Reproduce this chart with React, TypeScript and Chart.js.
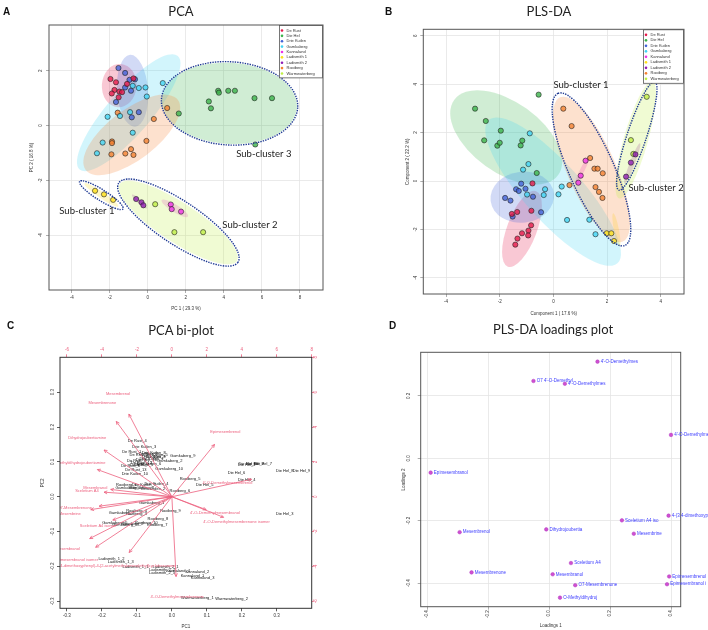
import React, { useEffect, useRef } from 'react';
import { Chart, registerables } from 'chart.js';

Chart.register(...registerables);

const FONT = '"Liberation Sans", Arial, sans-serif';
const TITLE_FONT = 'Lato, "Open Sans", sans-serif';
const BIPLOT_RED = 'rgb(236,96,126)';

// ---------- shared groups ----------
const groups = ['De Rust', 'Die Hel', 'Drie Kuilen', 'Gamkaberg', 'Kannaland', 'Ladismith 1', 'Ladismith 2', 'Rooiberg', 'Warmwaterberg'];
const groupColors = ['#e6194b', '#3cb44b', '#4363d8', '#42d4f4', '#f032e6', '#ffe119', '#911eb4', '#f58231', '#bfef45'];

// ---------- Panel A : PCA scores ----------
const pcaXTicks = [-4, -2, 0, 2, 4, 6, 8];
const pcaYTicks = [-4, -2, 0, 2];
const pcaXRange = [-5.19, 9.21];
const pcaYRange = [-6.0, 3.67];
const pcaScores: number[][][] = [
  [[-1.96, 1.70], [-1.67, 1.58], [-1.75, 1.30], [-1.89, 1.17], [-1.49, 1.24], [-1.35, 1.22], [-1.53, 1.03], [-1.09, 1.52], [-0.75, 1.72]],
  [[3.70, 1.27], [3.74, 1.20], [4.23, 1.27], [4.58, 1.27], [3.21, 0.88], [3.32, 0.63], [5.61, 1.00], [6.53, 1.00], [1.63, 0.44], [5.65, -0.69]],
  [[-1.54, 2.10], [-1.19, 1.92], [-0.96, 1.67], [-0.67, 1.69], [-1.19, 1.39], [-0.88, 1.27], [-1.67, 0.86], [-0.47, 0.49], [-0.84, 0.30]],
  [[0.79, 1.55], [-0.12, 1.39], [-0.47, 1.37], [-0.79, 1.45], [-0.05, 1.06], [-0.93, 0.49], [-1.46, 0.35], [-2.11, 0.32], [-0.79, -0.26], [-2.37, -0.62], [-2.67, -1.01]],
  [[1.21, -2.88], [1.26, -3.05], [1.75, -3.14]],
  [[-2.77, -2.38], [-2.30, -2.51], [-1.82, -2.71]],
  [[-0.61, -2.68], [-0.33, -2.80], [-0.23, -2.91]],
  [[1.02, 0.64], [-1.58, 0.47], [0.32, 0.24], [-1.88, -0.58], [-1.88, -0.64], [-0.07, -0.56], [-0.88, -0.86], [-1.18, -1.02], [-0.75, -1.07], [-1.91, -1.05]],
  [[0.39, -2.87], [1.40, -3.89], [2.91, -3.89]],
];
// [centerX, centerY, majorTipX, majorTipY, minor/major ratio]
const pcaEllipses: number[][] = [
  [-1.50, 1.46, -1.42, 2.25, 0.8],
  [4.29, 0.81, 7.84, 0.66, 0.6],
  [-0.80, 1.27, -0.93, 2.58, 0.43],
  [-1.00, 0.47, 1.58, 2.54, 0.29],
  [1.42, -3.02, 2.11, -3.32, 0.25],
  [-2.44, -2.53, -1.55, -2.95, 0.15],
  [-0.44, -2.77, -0.05, -3.02, 0.2],
  [-0.84, -0.34, 1.58, 0.94, 0.43],
  [1.60, -3.54, 4.68, -4.94, 0.28],
];
const pcaClusters: number[][] = [
  [-2.44, -2.54, -1.30, -3.04, 0.21],
  [1.61, -3.54, 4.74, -4.99, 0.3],
  [4.30, 0.81, 7.88, 0.66, 0.61],
];
const pcaClusterLabels: [string, number, number][] = [
  ['Sub-cluster 1', -3.20, -3.11],
  ['Sub-cluster 2', 5.37, -3.62],
  ['Sub-cluster 3', 6.10, -1.03],
];

// ---------- Panel B : PLS-DA scores ----------
const plsXTicks = [-4, -2, 0, 2, 4];
const plsYTicks = [-4, -2, 0, 2, 4, 6];
const plsXRange = [-4.85, 4.87];
const plsYRange = [-4.67, 6.27];
const plsScores: number[][][] = [
  [[-0.78, -0.10], [-1.55, -1.36], [-1.35, -1.28], [-0.82, -1.23], [-0.83, -1.83], [-1.17, -2.16], [-0.93, -2.05], [-0.94, -2.25], [-1.34, -2.38], [-1.42, -2.63]],
  [[-2.92, 2.99], [-2.52, 2.48], [-2.58, 1.68], [-2.09, 1.46], [-2.00, 1.58], [-1.96, 2.08], [-1.22, 1.47], [-1.16, 1.67], [-0.55, 3.57], [-0.62, 0.33]],
  [[-1.80, -0.70], [-1.60, -0.81], [-1.39, -0.34], [-1.29, -0.41], [-1.20, -0.11], [-1.04, -0.32], [-0.76, -0.65], [-0.46, -1.29], [-1.52, -1.47]],
  [[-0.88, 1.97], [-0.93, 0.70], [-1.13, 0.47], [-0.98, -0.56], [-0.36, -0.58], [-0.31, -0.34], [0.19, -0.55], [0.31, -0.23], [0.51, -1.61], [1.34, -1.60], [1.57, -2.20]],
  [[1.20, 0.84], [1.02, 0.22], [0.93, -0.07]],
  [[1.99, -2.16], [2.16, -2.16], [2.26, -2.48]],
  [[2.71, 0.18], [2.89, 0.76], [3.06, 1.10]],
  [[0.37, 2.99], [0.68, 2.27], [1.37, 0.95], [1.53, 0.51], [1.65, 0.51], [1.84, 0.32], [0.60, -0.17], [1.57, -0.25], [1.70, -0.45], [1.83, -0.70]],
  [[3.48, 3.48], [2.89, 1.69], [2.98, 1.12]],
];
const plsEllipses: number[][] = [
  [-1.17, -1.98, -0.64, -0.42, 0.37],
  [-1.76, 1.80, -3.70, 3.35, 0.55],
  [-1.16, -0.67, 0.02, -0.51, 0.8],
  [-0.01, -0.44, 2.39, -3.40, 0.3],
  [1.08, 0.45, 1.33, 1.01, 0.15],
  [2.35, -2.02, 2.47, -2.71, 0.15],
  [2.94, 0.73, 3.23, 1.56, 0.12],
  [1.42, 0.48, 0.25, 3.46, 0.31],
  [3.07, 1.69, 3.69, 4.10, 0.2],
];
const plsClusters: number[][] = [
  [1.42, 0.48, 0.17, 3.62, 0.27],
  [3.11, 1.86, 3.78, 4.10, 0.17],
];
const plsClusterLabels: [string, number, number][] = [
  ['Sub-cluster 1', 1.03, 3.97],
  ['Sub-cluster 2', 3.83, -0.29],
];

// ---------- Panel C : PCA bi-plot ----------
const biXTicks = [-0.3, -0.2, -0.1, 0, 0.1, 0.2, 0.3];
const biScoreTicks = [-6, -4, -2, 0, 2, 4, 6, 8];
const biRange = [-0.32, 0.40];
const biScoreRange = [-6.4, 8.0];
const loadingNames = [
  'Mesembrenol', 'Mesembrenone', 'Dihydrojoubertiamine', 'N-Methyldihydrojoubertiamine', 'Mesembranol', 'Sceletium A4',
  'O7-Mesembrenone', 'Mesembrine', 'Sceletium A4 isomer', 'Epimesembranol', 'Epimesembranol isomer',
  '4-(3,4-dimethoxyphenyl)-4-[2-acetylmethylamino)ethyl]cyclohexanone', "4'-O-Demethylmesembrenone", 'Epimesembrenol',
  "4'-O-Demethylmesembrenol", "4'-O-Demethylmesembranol", "4'-O-Demethylmesembrenone isomer",
];
const loadingLabelPos: number[][] = [
  [-0.154, 0.296], [-0.199, 0.270], [-0.242, 0.168], [-0.266, 0.097], [-0.219, 0.026], [-0.243, 0.016],
  [-0.278, -0.031], [-0.292, -0.048], [-0.211, -0.084], [-0.306, -0.150], [-0.273, -0.181],
  [-0.166, -0.197], [0.015, -0.286], [0.153, 0.187], [0.159, 0.040], [0.123, -0.046], [0.185, -0.073],
];
const loadingTips: number[][] = [
  [-0.123, 0.237], [-0.159, 0.216], [-0.194, 0.134], [-0.213, 0.078], [-0.175, 0.021], [-0.194, 0.013],
  [-0.208, -0.027], [-0.232, -0.037], [-0.169, -0.067], [-0.235, -0.120], [-0.218, -0.145],
  [-0.122, -0.160], [0.012, -0.229], [0.122, 0.150], [0.228, 0.050], [0.098, -0.037], [0.148, -0.059],
];
const sampleNames = [
  'De Rust_4', 'Drie Kuilen_3', 'De Rust_1', 'De Rust_2', 'Drie Kuilen_8', 'Drie Kuilen_5', 'De Rust_7', 'Drie Kuilen_1',
  'Gamkaberg_9', 'Gamkaberg_2', 'De Rust_3', 'Drie Kuilen_6', 'De Rust_9', 'De Rust_6', 'Gamkaberg_10', 'De Rust_13',
  'Drie Kuilen_10', 'De Rust_8', 'Drie Kuilen_9', 'De Rust_5', 'De Rust_10', 'De Rust_12',
  'Rooiberg_1', 'Drie Kuilen_7', 'Drie Kuilen_4', 'Gamkaberg_3', 'Drie Kuilen_2', 'Gamkaberg_6', 'Rooiberg_5', 'Rooiberg_6',
  'Die Hel_5', 'Gamkaberg_1', 'Gamkaberg_7', 'Rooiberg_4', 'Rooiberg_3', 'Rooiberg_9', 'Rooiberg_8', 'Gamkaberg_5',
  'Rooiberg_2', 'Rooiberg_10', 'Rooiberg_7', 'Gamkaberg_8',
  'Ladismith_1_2', 'Ladismith_1_3', 'Ladismith_1_1', 'Ladismith_2_1', 'Ladismith_2_2', 'Ladismith_2_3',
  'Kannaland_4', 'Kannaland_2', 'Kannaland_1', 'Kannaland_3', 'Warmwaterberg_1', 'Warmwaterberg_2',
  'Die Hel_10', 'Die Hel_2', 'Die Hel_7', 'Die Hel_1', 'Die Hel_6', 'Die Hel_4', 'Die Hel_8', 'Die Hel_9', 'Die Hel_3',
];
const sampleScores: number[][] = [
  [-1.98, 3.18], [-1.58, 2.88], [-2.30, 2.58], [-1.88, 2.38], [-1.04, 2.54], [-0.92, 2.42], [-0.92, 2.28], [-1.16, 2.16],
  [0.62, 2.32], [-0.12, 2.08], [-2.02, 2.06], [-1.30, 1.90], [-1.84, 1.84], [-2.36, 1.78], [-0.16, 1.60], [-2.06, 1.56],
  [-2.12, 1.30], [-1.36, 2.44], [-1.04, 2.28], [-1.60, 1.80], [-1.46, 2.10], [-1.74, 1.96],
  [-2.60, 0.70], [-1.60, 0.70], [-0.88, 0.74], [-2.50, 0.50], [-1.06, 0.46], [-1.74, 0.52], [1.04, 1.00], [0.46, 0.36],
  [1.88, 0.66], [-1.16, -0.34], [-2.88, -0.92], [-2.02, -0.84], [-2.02, -0.96], [-0.08, -0.84], [-0.80, -1.28], [-3.26, -1.48],
  [-2.22, -1.58], [-1.46, -1.52], [-0.84, -1.64], [-2.70, -1.62],
  [-3.46, -3.54], [-2.92, -3.76], [-2.08, -4.04], [-0.36, -4.00], [-0.56, -4.22], [-0.56, -4.38],
  [0.36, -4.28], [1.46, -4.30], [1.18, -4.54], [1.76, -4.68], [1.46, -5.80], [3.42, -5.84],
  [4.38, 1.90], [4.76, 1.90], [5.22, 1.90], [4.28, 1.80], [3.70, 1.36], [4.28, 0.94], [6.46, 1.50], [7.42, 1.50], [6.46, -1.00],
];

// ---------- Panel D : PLS-DA loadings ----------
const ldXTicks = [-0.4, -0.2, 0, 0.2, 0.4];
const ldYTicks = [-0.4, -0.2, 0, 0.2];
const ldXRange = [-0.4207, 0.4318];
const ldYRange = [-0.476, 0.340];
const ldNames = [
  "4'-O-Demethylmes", "O7 4'-O-Demethyl", "4'-O-Demethylmes", "4'-O-Demethylmes", 'Epimesembranol', '4-(3,4-dimethoxyp',
  'Sceletium A4 iso', 'Mesembrine', 'Dihydrojoubertia', 'Mesembrenol', 'Sceletium A4', 'Mesembrenone', 'Mesembranol',
  'O7-Mesembrenone', 'Epimesembrenol', 'Epimesembranol i', 'O-Methyldihydroj',
];
const ldValues: number[][] = [
  [0.159, 0.310], [-0.051, 0.248], [0.052, 0.239], [0.400, 0.075], [-0.388, -0.046], [0.392, -0.184],
  [0.239, -0.199], [0.278, -0.242], [-0.009, -0.228], [-0.293, -0.237], [0.072, -0.336], [-0.254, -0.366], [0.012, -0.372],
  [0.086, -0.407], [0.394, -0.379], [0.387, -0.404], [0.036, -0.447],
];

// ---------- helpers ----------
function rgba(hex: string, a: number) {
  const n = parseInt(hex.slice(1), 16);
  return `rgba(${(n >> 16) & 255},${(n >> 8) & 255},${n & 255},${a})`;
}

function clipArea(chart: any) {
  const { ctx, chartArea: ca } = chart;
  ctx.beginPath();
  ctx.rect(ca.left, ca.top, ca.right - ca.left, ca.bottom - ca.top);
  ctx.clip();
}

function ellipsePath(chart: any, e: number[]) {
  const xs = chart.scales.x;
  const ys = chart.scales.y;
  const cx = xs.getPixelForValue(e[0]);
  const cy = ys.getPixelForValue(e[1]);
  const tx = xs.getPixelForValue(e[2]);
  const ty = ys.getPixelForValue(e[3]);
  const a = Math.hypot(tx - cx, ty - cy);
  const ang = Math.atan2(ty - cy, tx - cx);
  chart.ctx.beginPath();
  chart.ctx.ellipse(cx, cy, a, a * e[4], ang, 0, Math.PI * 2);
}

function drawBox(chart: any, color: string, lw = 1) {
  const { ctx, chartArea: ca } = chart;
  ctx.save();
  ctx.strokeStyle = color;
  ctx.lineWidth = lw;
  ctx.strokeRect(ca.left, ca.top, ca.right - ca.left, ca.bottom - ca.top);
  ctx.restore();
}

function drawLegend(chart: any, boxW: number, rowH: number) {
  const { ctx, chartArea: ca } = chart;
  const x0 = ca.right - boxW;
  const y0 = ca.top + 0.5;
  const h = rowH * groups.length + 4;
  ctx.save();
  ctx.fillStyle = '#fff';
  ctx.fillRect(x0, y0, boxW, h);
  ctx.strokeStyle = '#555';
  ctx.lineWidth = 0.8;
  ctx.strokeRect(x0 + 0.5, y0, boxW - 1, h);
  ctx.font = `4px ${FONT}`;
  ctx.textBaseline = 'middle';
  ctx.textAlign = 'left';
  groups.forEach((g, i) => {
    const cy = y0 + 2.3 + rowH * (i + 0.5);
    ctx.beginPath();
    ctx.arc(x0 + 3, cy, 1.3, 0, Math.PI * 2);
    ctx.fillStyle = groupColors[i];
    ctx.fill();
    ctx.fillStyle = '#333';
    ctx.fillText(g, x0 + 7.5, cy);
  });
  ctx.restore();
}

function axis(p: {
  pos: string; range: number[]; ticks: number[]; title?: string; size: number; titlePad?: any;
  rotate?: boolean; fmt?: (v: number) => string; pad?: number; grid?: boolean; color?: string; tickLen?: number; fontSize?: number;
}) {
  const vertical = p.pos === 'left' || p.pos === 'right';
  const color = p.color || '#333';
  return {
    type: 'linear',
    position: p.pos,
    min: p.range[0],
    max: p.range[1],
    afterBuildTicks: (s: any) => { s.ticks = p.ticks.map((v) => ({ value: v })); },
    afterFit: (s: any) => { if (vertical) s.width = p.size; else s.height = p.size; },
    ticks: {
      font: { size: p.fontSize || 4.5, family: FONT },
      color,
      padding: p.pad ?? 2,
      autoSkip: false,
      minRotation: p.rotate ? 90 : 0,
      maxRotation: p.rotate ? 90 : 0,
      crossAlign: vertical && p.rotate ? 'center' : 'near',
      callback: (v: any) => (p.fmt ? p.fmt(Number(v)) : String(v)),
    },
    grid: {
      display: true,
      drawOnChartArea: p.grid !== false,
      color: p.grid === false ? color : '#e4e4e4',
      lineWidth: 0.8,
      tickLength: p.tickLen ?? 3,
      tickColor: p.grid === false ? color : '#999',
    },
    border: { display: false },
    title: {
      display: !!p.title,
      text: p.title || '',
      font: { size: 4.5, family: FONT },
      color: '#333',
      padding: p.titlePad || 0,
    },
  };
}

function scoreChart(p: any) {
  const plugin = {
    id: 'scoreDecor',
    beforeDatasetsDraw(chart: any) {
      const ctx = chart.ctx;
      ctx.save();
      clipArea(chart);
      p.ellipses.forEach((e: number[], i: number) => {
        ellipsePath(chart, e);
        ctx.fillStyle = rgba(groupColors[i], 0.24);
        ctx.fill();
      });
      ctx.restore();
    },
    afterDatasetsDraw(chart: any) {
      const ctx = chart.ctx;
      ctx.save();
      clipArea(chart);
      ctx.strokeStyle = '#1f3a93';
      ctx.lineWidth = 1.4;
      ctx.setLineDash([1.4, 1.1]);
      p.clusters.forEach((e: number[]) => { ellipsePath(chart, e); ctx.stroke(); });
      ctx.setLineDash([]);
      ctx.font = `9.5px ${TITLE_FONT}`;
      ctx.fillStyle = '#222';
      ctx.textAlign = 'center';
      ctx.textBaseline = 'middle';
      p.clusterLabels.forEach(([t, x, y]: [string, number, number]) => {
        ctx.fillText(t, chart.scales.x.getPixelForValue(x), chart.scales.y.getPixelForValue(y));
      });
      ctx.restore();
      drawLegend(chart, p.legendW, p.legendRowH);
      drawBox(chart, '#555');
    },
  };
  return {
    type: 'scatter',
    data: {
      datasets: p.scores.map((pts: number[][], i: number) => ({
        label: groups[i],
        data: pts.map(([x, y]) => ({ x, y })),
        backgroundColor: rgba(groupColors[i], 0.8),
        borderColor: '#222',
        borderWidth: 0.6,
        pointRadius: 2.6,
      })),
    },
    options: {
      responsive: false,
      animation: false,
      events: [],
      layout: { padding: p.padding },
      plugins: { legend: { display: false }, tooltip: { enabled: false }, title: { display: false } },
      scales: {
        x: axis({ pos: 'bottom', range: p.xRange, ticks: p.xTicks, title: p.xTitle, size: p.xAxisH, titlePad: { top: 0, bottom: p.xTitlePad } }),
        y: axis({ pos: 'left', range: p.yRange, ticks: p.yTicks, title: p.yTitle, size: p.yAxisW, titlePad: { top: p.yTitlePad, bottom: 0 }, rotate: true, pad: 3 }),
      },
    },
    plugins: [plugin],
  };
}

function biplotChart() {
  const plugin = {
    id: 'biplotDecor',
    afterDatasetsDraw(chart: any) {
      const { ctx } = chart;
      const xs = chart.scales.x;
      const ys = chart.scales.y;
      ctx.save();
      clipArea(chart);
      ctx.font = `4px ${FONT}`;
      ctx.textAlign = 'center';
      ctx.textBaseline = 'middle';
      ctx.fillStyle = '#111';
      chart.getDatasetMeta(0).data.forEach((el: any, i: number) => ctx.fillText(sampleNames[i], el.x, el.y));
      const ox = xs.getPixelForValue(0);
      const oy = ys.getPixelForValue(0);
      ctx.strokeStyle = BIPLOT_RED;
      ctx.lineWidth = 0.8;
      loadingTips.forEach(([lx, ly]) => {
        const px = xs.getPixelForValue(lx);
        const py = ys.getPixelForValue(ly);
        const ang = Math.atan2(py - oy, px - ox);
        const L = 3.5;
        const w = 0.45;
        ctx.beginPath();
        ctx.moveTo(ox, oy);
        ctx.lineTo(px, py);
        ctx.moveTo(px - L * Math.cos(ang - w), py - L * Math.sin(ang - w));
        ctx.lineTo(px, py);
        ctx.lineTo(px - L * Math.cos(ang + w), py - L * Math.sin(ang + w));
        ctx.stroke();
      });
      ctx.fillStyle = BIPLOT_RED;
      loadingLabelPos.forEach(([lx, ly], i) => ctx.fillText(loadingNames[i], xs.getPixelForValue(lx), ys.getPixelForValue(ly)));
      ctx.restore();
      drawBox(chart, '#333');
    },
  };
  const fmt = (v: number) => v.toFixed(1);
  return {
    type: 'scatter',
    data: {
      datasets: [{
        label: 'samples',
        data: sampleScores.map(([x, y]) => ({ x, y })),
        xAxisID: 'x2',
        yAxisID: 'y2',
        pointRadius: 0,
      }],
    },
    options: {
      responsive: false,
      animation: false,
      events: [],
      layout: { padding: { left: 40, top: 25.3, right: 30.3, bottom: 0 } },
      plugins: { legend: { display: false }, tooltip: { enabled: false } },
      scales: {
        x: axis({ pos: 'bottom', range: biRange, ticks: biXTicks, title: 'PC1', size: 21.7, titlePad: { top: 0, bottom: 0.3 }, fmt, grid: false, pad: 1.5 }),
        y: axis({ pos: 'left', range: biRange, ticks: biXTicks, title: 'PC2', size: 20, titlePad: { top: 0.3, bottom: 0 }, fmt, grid: false, rotate: true, pad: 0.5 }),
        x2: axis({ pos: 'top', range: biScoreRange, ticks: biScoreTicks, size: 14, grid: false, color: BIPLOT_RED, pad: 2 }),
        y2: axis({ pos: 'right', range: biScoreRange, ticks: biScoreTicks, size: 12, grid: false, color: BIPLOT_RED, rotate: true, pad: 0, tickLen: 2 }),
      },
    },
    plugins: [plugin],
  };
}

function loadingsChart() {
  const plugin = {
    id: 'loadDecor',
    afterDatasetsDraw(chart: any) {
      const { ctx } = chart;
      drawBox(chart, '#555');
      ctx.save();
      ctx.font = `4.5px ${FONT}`;
      ctx.textAlign = 'left';
      ctx.textBaseline = 'middle';
      ctx.fillStyle = '#3b3bff';
      chart.getDatasetMeta(0).data.forEach((el: any, i: number) => ctx.fillText(ldNames[i], el.x + 3.2, el.y));
      ctx.restore();
    },
  };
  const fmt = (v: number) => v.toFixed(1);
  return {
    type: 'scatter',
    data: {
      datasets: [{
        label: 'loadings',
        data: ldValues.map(([x, y]) => ({ x, y })),
        pointRadius: 1.8,
        backgroundColor: '#d04fd0',
        borderColor: '#b03cc0',
        borderWidth: 0.5,
        clip: false,
      }],
    },
    options: {
      responsive: false,
      animation: false,
      events: [],
      layout: { padding: { left: 46.7, top: 34.3, right: 27.3, bottom: 0 } },
      plugins: { legend: { display: false }, tooltip: { enabled: false } },
      scales: {
        x: axis({ pos: 'bottom', range: ldXRange, ticks: ldXTicks, title: 'Loadings 1', size: 23.3, titlePad: { top: 0, bottom: 1.3 }, fmt, rotate: true, pad: 0.5 }),
        y: axis({ pos: 'left', range: ldYRange, ticks: ldYTicks, title: 'Loadings 2', size: 20, titlePad: { top: 0, bottom: 0 }, fmt, rotate: true, pad: 4.7 }),
      },
    },
    plugins: [plugin],
  };
}

function ChartCanvas({ left, top, width, height, make }: { left: number; top: number; width: number; height: number; make: () => any }) {
  const ref = useRef<HTMLCanvasElement | null>(null);
  useEffect(() => {
    const chart = new Chart(ref.current as HTMLCanvasElement, make());
    return () => chart.destroy();
  }, []);
  return <canvas ref={ref} width={width} height={height} style={{ position: 'absolute', left, top, width, height }} />;
}

const letterStyle = (left: number, top: number): React.CSSProperties => ({
  position: 'absolute', left, top, fontFamily: FONT, fontWeight: 'bold', fontSize: 10, lineHeight: '10px', color: '#111',
});
const titleStyle = (cx: number, top: number): React.CSSProperties => ({
  position: 'absolute', left: cx - 120, width: 240, top, textAlign: 'center', fontFamily: TITLE_FONT, fontSize: 13,
  lineHeight: '13px', color: '#222',
});

export default function App() {
  return (
    <div style={{ position: 'absolute', left: 0, top: 0, width: 708, height: 630, background: '#fff', overflow: 'hidden' }}>
      <ChartCanvas left={0} top={0} width={354} height={318} make={() => scoreChart({
        scores: pcaScores, ellipses: pcaEllipses, clusters: pcaClusters, clusterLabels: pcaClusterLabels,
        xRange: pcaXRange, yRange: pcaYRange, xTicks: pcaXTicks, yTicks: pcaYTicks,
        xTitle: 'PC 1 ( 29.3 %)', yTitle: 'PC 2 ( 16.8 %)',
        padding: { left: 27, top: 25, right: 31, bottom: 0 }, yAxisW: 22, xAxisH: 28, yTitlePad: 1.6, xTitlePad: 6.6,
        legendW: 44, legendRowH: 5.375,
      })} />
      <ChartCanvas left={354} top={0} width={354} height={318} make={() => scoreChart({
        scores: plsScores, ellipses: plsEllipses, clusters: plsClusters, clusterLabels: plsClusterLabels,
        xRange: plsXRange, yRange: plsYRange, xTicks: plsXTicks, yTicks: plsYTicks,
        xTitle: 'Component 1 ( 17.6 %)', yTitle: 'Component 2 ( 22.2 %)',
        padding: { left: 47.3, top: 29.3, right: 24, bottom: 0 }, yAxisW: 22, xAxisH: 24, yTitlePad: 3.3, xTitlePad: 1.6,
        legendW: 41, legendRowH: 5.5,
      })} />
      <ChartCanvas left={0} top={318} width={354} height={312} make={biplotChart} />
      <ChartCanvas left={354} top={318} width={354} height={312} make={loadingsChart} />

      <div style={letterStyle(3, 7)}>A</div>
      <div style={letterStyle(385, 7)}>B</div>
      <div style={letterStyle(7, 321)}>C</div>
      <div style={letterStyle(389, 321)}>D</div>
      <div style={titleStyle(181, 5)}>PCA</div>
      <div style={titleStyle(549, 5)}>PLS-DA</div>
      <div style={titleStyle(181, 324)}>PCA bi-plot</div>
      <div style={titleStyle(553, 323)}>PLS-DA loadings plot</div>
    </div>
  );
}
